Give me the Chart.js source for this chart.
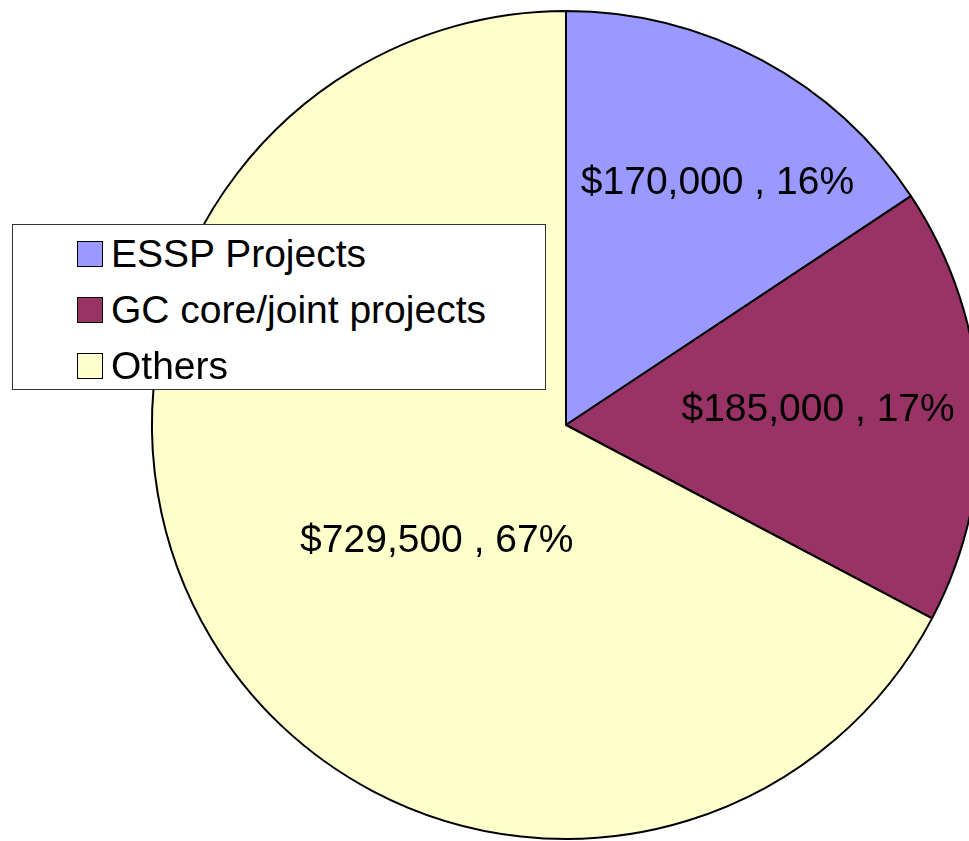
<!DOCTYPE html>
<html lang="en">
<head>
    <meta charset="UTF-8">
    <title>Funding Breakdown</title>
    <script src="https://cdn.jsdelivr.net/npm/chart.js@4"></script>
    <style>
        html, body { margin: 0; padding: 0; background: #fff; overflow: hidden; width: 969px; height: 841px; }
        #wrap { position: absolute; left: 0; top: 0; width: 1132px; height: 850px; }
        #legend {
            position: absolute; left: 12px; top: 224px; width: 532px; height: 164px;
            border: 1px solid #333; background: #fff;
            font-family: "Liberation Sans", Arial, sans-serif; font-size: 39px; color: #000;
        }
        .row { position: absolute; left: 64px; height: 56px; line-height: 56px; white-space: nowrap; }
        .box { display: inline-block; width: 24px; height: 24px; border: 1.5px solid #000; vertical-align: middle; margin-right: 8px; position: relative; top: -3px; }
    </style>
</head>
<body>
    <div id="wrap"><canvas id="pieChart"></canvas></div>
    <div id="legend"></div>

    <script>
        const categories = ['ESSP Projects', 'GC core/joint projects', 'Others'];
        const amounts = [170000, 185000, 729500];
        const colors = ['#9999FF', '#993366', '#FFFFCC'];

        // legend (html box on the left)
        const legend = document.getElementById('legend');
        categories.forEach((name, i) => {
            const row = document.createElement('div');
            row.className = 'row';
            row.style.top = (1 + i * 56) + 'px';
            row.innerHTML = '<span class="box" style="background:' + colors[i] + '"></span>' + name;
            legend.appendChild(row);
        });

        const total = amounts.reduce((a, b) => a + b, 0);

        // value labels: radius fraction + small angle nudge (deg) per slice
        const labelPlugin = {
            id: 'sliceLabels',
            afterDatasetsDraw(chart, args, opts) {
                const ctx = chart.ctx;
                const meta = chart.getDatasetMeta(0);
                ctx.save();
                ctx.font = '39px "Liberation Sans", Arial, sans-serif';
                ctx.fillStyle = '#000';
                ctx.textAlign = 'center';
                ctx.textBaseline = 'middle';
                meta.data.forEach((arc, i) => {
                    const p = arc.getProps(['x', 'y', 'startAngle', 'endAngle', 'outerRadius'], true);
                    const mid = (p.startAngle + p.endAngle) / 2 + opts.nudge[i] * Math.PI / 180;
                    const r = p.outerRadius * opts.frac[i];
                    const v = amounts[i];
                    const txt = '$' + v.toLocaleString('en-US') + ' , ' + Math.round(v / total * 100) + '%';
                    ctx.fillText(txt, p.x + Math.cos(mid) * r, p.y + Math.sin(mid) * r);
                });
                ctx.restore();
            }
        };

        new Chart(document.getElementById('pieChart').getContext('2d'), {
            type: 'pie',
            data: {
                labels: categories,
                datasets: [{
                    data: amounts,
                    backgroundColor: colors,
                    borderColor: '#000',
                    borderWidth: 2
                }]
            },
            options: {
                responsive: true,
                maintainAspectRatio: false,
                animation: false,
                layout: { padding: 10 },
                plugins: {
                    legend: { display: false },
                    tooltip: { enabled: false },
                    sliceLabels: { frac: [0.69, 0.61, 0.42], nudge: [3.8, -0.5, -10.9] }
                }
            },
            plugins: [labelPlugin]
        });
    </script>
</body>
</html>
